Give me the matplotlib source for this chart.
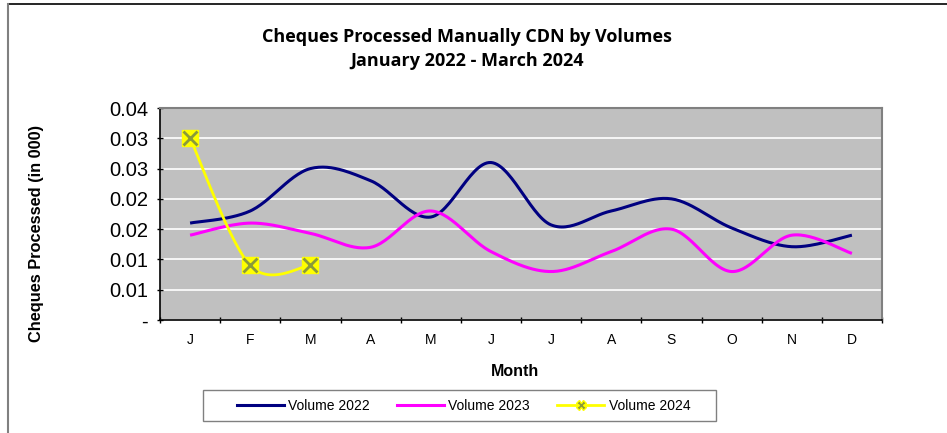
import numpy as np
import matplotlib
matplotlib.use("Agg")
import matplotlib.pyplot as plt
from matplotlib.lines import Line2D
from matplotlib.patches import Rectangle

months = ["J", "F", "M", "A", "M", "J", "J", "A", "S", "O", "N", "D"]
vol_2022 = [0.016, 0.018, 0.025, 0.023, 0.017, 0.026, 0.0157, 0.018, 0.020, 0.0152, 0.0121, 0.014]
vol_2023 = [0.014, 0.016, 0.0143, 0.012, 0.018, 0.0113, 0.008, 0.0113, 0.015, 0.008, 0.014, 0.011]
vol_2024 = [0.030, 0.009, 0.009]
ytick_vals = [0, 0.005, 0.010, 0.015, 0.020, 0.025, 0.030, 0.035]
ytick_labels = ["-", "0.01", "0.01", "0.02", "0.02", "0.03", "0.03", "0.04"]

title = "Cheques Processed Manually CDN by Volumes\nJanuary 2022 - March 2024"


def smooth(xs, ys, n=30):
    xs = np.asarray(xs, float)
    ys = np.asarray(ys, float)
    P = np.column_stack([xs, ys])
    m = len(P)
    out = []
    for i in range(m - 1):
        p0 = P[i - 1] if i > 0 else P[i]
        p1 = P[i]
        p2 = P[i + 1]
        p3 = P[i + 2] if i + 2 < m else P[i + 1]
        c1 = p1 + (p2 - p0) / 6.0
        c2 = p2 - (p3 - p1) / 6.0
        t = np.linspace(0, 1, n)[:, None]
        seg = ((1 - t) ** 3) * p1 + 3 * ((1 - t) ** 2) * t * c1 + 3 * (1 - t) * t ** 2 * c2 + t ** 3 * p2
        if i > 0:
            seg = seg[1:]
        out.append(seg)
    out = np.vstack(out)
    return out[:, 0], out[:, 1]


W, H = 947, 433
fig = plt.figure(figsize=(W / 100, H / 100), dpi=100)
fig.patch.set_facecolor("white")
ax = fig.add_axes([160 / W, 1 - 320 / H, (882 - 160) / W, (320 - 108) / H])
ax.set_facecolor("#c0c0c0")

x22 = np.arange(len(vol_2022))
x24 = np.arange(len(vol_2024))
sx, sy = smooth(x22, vol_2022)
ax.plot(sx, sy, color="#000080", lw=2.2, solid_capstyle="butt", zorder=3)
sx, sy = smooth(x22, vol_2023)
ax.plot(sx, sy, color="#ff00ff", lw=2.2, solid_capstyle="butt", zorder=3)
sx, sy = smooth(x24, vol_2024)
ax.plot(sx, sy, color="#ffff00", lw=2.0, solid_capstyle="butt", zorder=4)
ax.plot(x24, vol_2024, ls="none", marker="s", ms=12, mfc="#ffff00", mec="#ffff00", zorder=5)
ax.plot(x24, vol_2024, ls="none", marker="x", ms=10, mew=2, color="#8a9a3a", zorder=6)

ax.set_xlim(-0.5, 11.5)
ax.set_ylim(0, 0.035)
ax.set_yticks(ytick_vals)
ax.set_yticklabels(ytick_labels, fontsize=14.5, family="Liberation Sans")
ax.set_xticks(np.arange(-0.5, 12, 1))
ax.set_xticklabels([])
ax.set_xticks(np.arange(12), minor=True)
ax.set_xticklabels(months, minor=True, fontsize=10, family="Liberation Sans")
ax.tick_params(axis="x", which="minor", length=0, pad=9)
ax.tick_params(axis="x", which="major", length=5, direction="inout", width=1)
ax.tick_params(axis="y", length=5, direction="inout", width=1, pad=6)
ax.yaxis.grid(True, color="white", lw=1.2)
ax.set_axisbelow(True)

for side in ["top", "right"]:
    ax.spines[side].set_color("#808080")
    ax.spines[side].set_linewidth(1.5)
for side in ["left", "bottom"]:
    ax.spines[side].set_color("black")
    ax.spines[side].set_linewidth(1.2)

fig.text(515 / W, 1 - 371 / H, "Month", ha="center", va="center", fontsize=11.5,
         fontweight="bold", family="Liberation Sans")
fig.text(37 / W, 1 - 233 / H, "Cheques Processed (in 000)", ha="center", va="center",
         rotation=90, fontsize=11.8, fontweight="bold", family="Liberation Sans")

fig.text(467 / W, 1 - 49 / H, title, ha="center", va="center", fontsize=13,
         fontweight="bold", family="Open Sans", linespacing=1.4)

# legend
fig.add_artist(Rectangle((203 / W, 1 - 421 / H), (716 - 203) / W, (421 - 390) / H,
                         transform=fig.transFigure, facecolor="white", edgecolor="#808080", lw=1.0))
handles = [
    Line2D([], [], color="#000080", lw=2.2),
    Line2D([], [], color="#ff00ff", lw=2.2),
    Line2D([], [], color="#ffff00", lw=2.0, marker="X", ms=7, mfc="#8a9a3a", mec="#ffff00"),
]
leg = fig.legend(handles, ["Volume 2022", "Volume 2023", "Volume 2024"], ncol=3,
                 loc="center", bbox_to_anchor=((237 + 690) / 2 / W, 1 - 405.5 / H),
                 frameon=False, prop={"family": "Liberation Sans", "size": 10},
                 handlelength=3.4, columnspacing=1.95, borderpad=0.0, handletextpad=0.3)

fig.add_artist(Line2D([8 / W, 1], [1 - 4 / H, 1 - 4 / H], color="black", lw=1.2, transform=fig.transFigure))
fig.add_artist(Line2D([8 / W, 8 / W], [0, 1 - 4 / H], color="#808080", lw=1.5, transform=fig.transFigure))

fig.savefig("out.png", dpi=100)
